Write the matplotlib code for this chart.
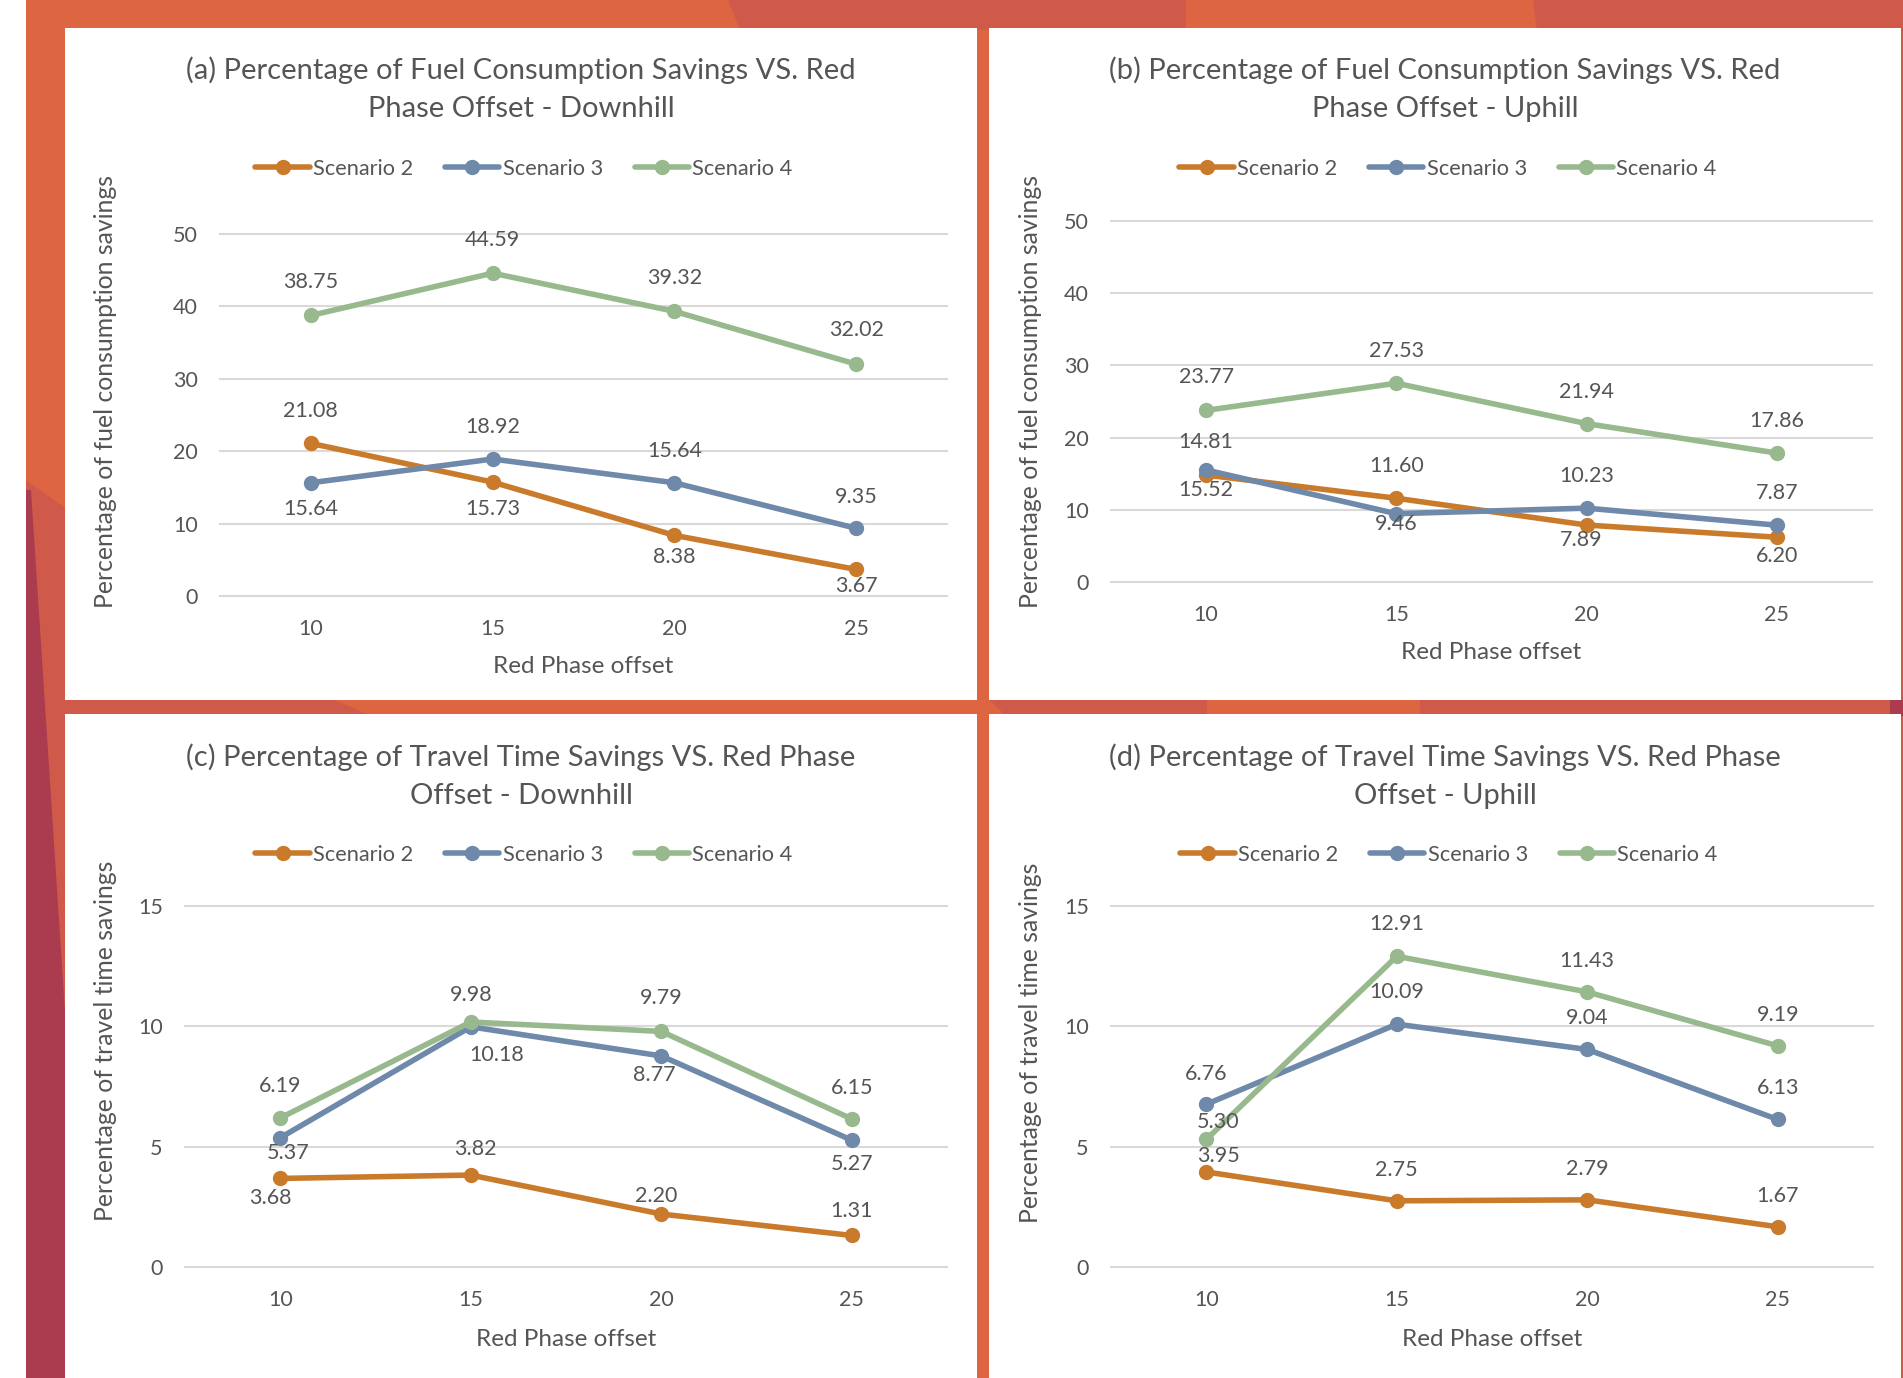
import numpy as np
import matplotlib
matplotlib.use("Agg")
import matplotlib.pyplot as plt
from matplotlib.patches import Polygon

plt.rcParams['font.family'] = ['Lato', 'DejaVu Sans']

# Red phase offsets on the x axis
offsets = [10, 15, 20, 25]
series_names = ['Scenario 2', 'Scenario 3', 'Scenario 4']

# (a) fuel consumption savings, downhill
fuel_down_s2 = [21.08, 15.73, 8.38, 3.67]
fuel_down_s3 = [15.64, 18.92, 15.64, 9.35]
fuel_down_s4 = [38.75, 44.59, 39.32, 32.02]
# (b) fuel consumption savings, uphill
fuel_up_s2 = [14.81, 11.60, 7.89, 6.20]
fuel_up_s3 = [15.52, 9.46, 10.23, 7.87]
fuel_up_s4 = [23.77, 27.53, 21.94, 17.86]
# (c) travel time savings, downhill
time_down_s2 = [3.68, 3.82, 2.20, 1.31]
time_down_s3 = [5.37, 9.98, 8.77, 5.27]
time_down_s4 = [6.19, 10.18, 9.79, 6.15]
# (d) travel time savings, uphill
time_up_s2 = [3.95, 2.75, 2.79, 1.67]
time_up_s3 = [6.76, 10.09, 9.04, 6.13]
time_up_s4 = [5.30, 12.91, 11.43, 9.19]

COLORS = ['#C97A2B', '#6F89AA', '#97B98D']
TEXT = '#555555'
GRID = '#D9D9D9'

W, H = 1903, 1378
fig = plt.figure(figsize=(W / 100, H / 100), dpi=100)


def px(x, y):
    # pixel position measured from the top-left corner -> figure fraction
    return (x / W, 1 - y / H)


def shape(pts, color, z=-2):
    fig.add_artist(Polygon([px(x, y) for x, y in pts], closed=True,
                           transform=fig.transFigure, facecolor=color,
                           edgecolor='none', zorder=z))


# slide background behind the four chart panels
ORANGE, RED, CRIMSON = '#DD6541', '#CF5A4A', '#AB3C4F'
shape([(26, 0), (W, 0), (W, H), (26, H)], ORANGE, -3)
shape([(728, 0), (1186, 0), (1186, 640), (990, 700), (1010, 720), (1207, 720),
       (1207, 30), (740, 30)], RED)
shape([(1533, 0), (W, 0), (W, H), (1890, H), (1890, 720), (1420, 720),
       (1420, 690), (1537, 30)], RED)
shape([(26, 480), (335, 700), (380, 720), (65, 720), (65, H), (26, H)], RED)
shape([(26, 490), (31, 490), (65, 1012), (65, H), (26, H)], CRIMSON)
shape([(1890, 700), (W, 700), (W, 716), (1890, 716)], CRIMSON)

# white chart panels
panels = [(65, 28, 977, 700), (989, 28, 1901, 700),
          (65, 714, 977, H), (989, 714, 1901, H)]
for x0, y0, x1, y1 in panels:
    shape([(x0, y0), (x1, y0), (x1, y1), (x0, y1)], 'white', -1)

charts = [
    dict(title='(a) Percentage of Fuel Consumption Savings VS. Red\nPhase Offset - Downhill',
         ylabel='Percentage of fuel consumption savings',
         data=[fuel_down_s2, fuel_down_s3, fuel_down_s4], ymax=50, step=10,
         box=(220, 234, 947, 596), title_xy=(521, 89), legend_xy=(524, 169),
         ylabel_xy=(106, 392), xlabel_y=667,
         lab=[[(0, -32), (0, 27), (0, 22), (0, 17)],
              [(0, 26), (0, -32), (0, -32), (0, -31)],
              [(0, -33), (0, -33), (0, -33), (0, -34)]]),
    dict(title='(b) Percentage of Fuel Consumption Savings VS. Red\nPhase Offset - Uphill',
         ylabel='Percentage of fuel consumption savings',
         data=[fuel_up_s2, fuel_up_s3, fuel_up_s4], ymax=50, step=10,
         box=(1111, 221, 1872, 582), title_xy=(1445, 89), legend_xy=(1448, 169),
         ylabel_xy=(1030, 392), xlabel_y=653,
         lab=[[(0, -33), (0, -32), (-5, 15), (0, 19)],
              [(0, 20), (0, 10), (0, -32), (0, -32)],
              [(0, -33), (0, -32), (0, -32), (0, -32)]]),
    dict(title='(c) Percentage of Travel Time Savings VS. Red Phase\nOffset - Downhill',
         ylabel='Percentage of travel time savings',
         data=[time_down_s2, time_down_s3, time_down_s4], ymax=15, step=5,
         box=(185, 906, 947, 1267), title_xy=(521, 776), legend_xy=(524, 855),
         ylabel_xy=(106, 1041), xlabel_y=1339,
         lab=[[(-10, 20), (5, -26), (-5, -18), (0, -24)],
              [(8, 15), (0, -32), (-7, 19), (0, 24)],
              [(0, -32), (26, 33), (0, -33), (0, -31)]]),
    dict(title='(d) Percentage of Travel Time Savings VS. Red Phase\nOffset - Uphill',
         ylabel='Percentage of travel time savings',
         data=[time_up_s2, time_up_s3, time_up_s4], ymax=15, step=5,
         box=(1111, 906, 1873, 1267), title_xy=(1445, 776), legend_xy=(1449, 855),
         ylabel_xy=(1030, 1043), xlabel_y=1339,
         lab=[[(12, -16), (0, -31), (0, -31), (0, -31)],
              [(0, -30), (0, -32), (0, -31), (0, -31)],
              [(12, -17), (0, -32), (0, -31), (0, -31)]]),
]

for c in charts:
    x0, y0, x1, y1 = c['box']
    left, bottom = px(x0, y1)
    ax = fig.add_axes([left, bottom, (x1 - x0) / W, (y1 - y0) / H])
    ax.set_facecolor('none')
    for s in ax.spines.values():
        s.set_visible(False)
    ax.set_xlim(7.5, 27.5)
    ax.set_ylim(0, c['ymax'])
    ticks = np.arange(0, c['ymax'] + 1, c['step'])
    for t in ticks:
        ax.axhline(t, color=GRID, lw=1.5, clip_on=False, zorder=1)
    ax.set_xticks(offsets)
    ax.set_yticks(ticks)
    ax.tick_params(axis='both', length=0, labelsize=15.5, labelcolor=TEXT)
    ax.tick_params(axis='y', pad=16)
    ax.tick_params(axis='x', pad=16.5)

    handles = []
    for k, (vals, col) in enumerate(zip(c['data'], COLORS)):
        h, = ax.plot(offsets, vals, color=col, lw=4, marker='o', ms=10,
                     solid_capstyle='round', clip_on=False, zorder=3 + k,
                     label=series_names[k])
        handles.append(h)
        for j, v in enumerate(vals):
            dx, dy = c['lab'][k][j]
            ax.annotate(f'{v:.2f}', (offsets[j], v), xytext=(dx * 0.72, -dy * 0.72),
                        textcoords='offset points', ha='center', va='center',
                        fontsize=15.5, color=TEXT, zorder=10)

    tx, ty = c['title_xy']
    fig.text(*px(tx, ty), c['title'], ha='center', va='center', fontsize=21,
             color=TEXT, linespacing=1.6)
    lx, ly = c['legend_xy']
    fig.legend(handles=handles, loc='center', bbox_to_anchor=px(lx, ly), ncol=3,
               frameon=False, fontsize=15.7, labelcolor=TEXT, handlelength=2.5,
               handletextpad=0.15, columnspacing=1.45, borderaxespad=0)
    yx, yy = c['ylabel_xy']
    fig.text(*px(yx, yy), c['ylabel'], rotation=90, ha='center', va='center',
             fontsize=17.8, color=TEXT)
    fig.text(*px((x0 + x1) / 2, c['xlabel_y']), 'Red Phase offset', ha='center',
             va='center', fontsize=17.5, color=TEXT)

fig.savefig('out.png', dpi=100)
